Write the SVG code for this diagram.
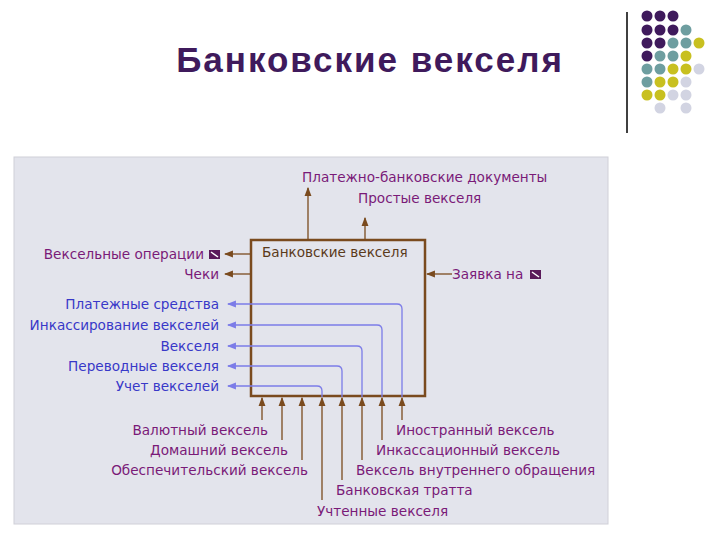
<svg xmlns="http://www.w3.org/2000/svg" width="720" height="540" viewBox="0 0 720 540">
<defs>
<style>
text{font-family:"DejaVu Sans","Liberation Sans",sans-serif;font-size:13.6px}
.p{fill:#7a1a78}.b{fill:#3838c8}.br{stroke:#7a4a1e;fill:none;stroke-width:1.3}
.bl{stroke:#7c7ce8;fill:none;stroke-width:1.3}
.P{fill:#3f1a5c}.T{fill:#6e9ea0}.Y{fill:#c8c020}.L{fill:#d2d4e2}
</style>
<marker id="ab" viewBox="0 0 8 8" refX="7" refY="4" markerWidth="7" markerHeight="7" orient="auto"><path d="M0,1L8,4L0,7z" fill="#7a4a1e"/></marker>
<marker id="au" viewBox="0 0 8 8" refX="7" refY="4" markerWidth="7" markerHeight="7" orient="auto"><path d="M0,1L8,4L0,7z" fill="#7c7ce8"/></marker>
</defs>
<rect width="720" height="540" fill="#fff"/>
<g id="deco">
<line x1="627" y1="12" x2="627" y2="133" stroke="#000" stroke-width="1.5"/>
<g>
<circle class="P" cx="647" cy="16" r="5.5"/><circle class="P" cx="660" cy="16" r="5.5"/><circle class="P" cx="673" cy="16" r="5.5"/>
<circle class="P" cx="647" cy="30" r="5.5"/><circle class="P" cx="660" cy="30" r="5.5"/><circle class="P" cx="673" cy="30" r="5.5"/><circle class="T" cx="686" cy="30" r="5.5"/>
<circle class="P" cx="647" cy="43" r="5.5"/><circle class="P" cx="660" cy="43" r="5.5"/><circle class="T" cx="673" cy="43" r="5.5"/><circle class="T" cx="686" cy="43" r="5.5"/><circle class="Y" cx="699" cy="43" r="5.5"/>
<circle class="P" cx="647" cy="56" r="5.5"/><circle class="T" cx="660" cy="56" r="5.5"/><circle class="T" cx="673" cy="56" r="5.5"/><circle class="Y" cx="686" cy="56" r="5.5"/>
<circle class="T" cx="647" cy="69" r="5.5"/><circle class="T" cx="660" cy="69" r="5.5"/><circle class="Y" cx="673" cy="69" r="5.5"/><circle class="Y" cx="686" cy="69" r="5.5"/><circle class="L" cx="699" cy="69" r="5.5"/>
<circle class="T" cx="647" cy="82" r="5.5"/><circle class="Y" cx="660" cy="82" r="5.5"/><circle class="Y" cx="673" cy="82" r="5.5"/><circle class="L" cx="686" cy="82" r="5.5"/>
<circle class="Y" cx="647" cy="95" r="5.5"/><circle class="Y" cx="660" cy="95" r="5.5"/><circle class="L" cx="673" cy="95" r="5.5"/><circle class="L" cx="686" cy="95" r="5.5"/>
<circle class="L" cx="660" cy="108" r="5.5"/><circle class="L" cx="686" cy="108" r="5.5"/>
</g>
</g>
<text x="370" y="72" text-anchor="middle" style="font-family:'Liberation Sans',Arial,sans-serif;font-size:35px;font-weight:bold;letter-spacing:2px" fill="#3f1a5c">Банковские векселя</text>
<rect x="14" y="157" width="594" height="367" fill="#e3e4ec" stroke="#d0d0d8"/>
<g id="box">
<rect x="251" y="240" width="174" height="156" fill="none" stroke="#7a4a1e" stroke-width="2.5"/>
<text x="262" y="257" fill="#5a3a1a">Банковские векселя</text>
</g>
<g id="connectors">
<path class="br" d="M308,240V188" marker-end="url(#ab)"/>
<path class="br" d="M365,240V218" stroke-width="2.2" marker-end="url(#ab)"/>
<path class="br" d="M250,254H225" marker-end="url(#ab)"/>
<path class="br" d="M250,274H225" marker-end="url(#ab)"/>
<path class="br" d="M452,274H427" marker-end="url(#ab)"/>
<path class="bl" d="M402,397V309q0,-5 -5,-5H228" marker-end="url(#au)"/>
<path class="bl" d="M382,397V330q0,-5 -5,-5H228" marker-end="url(#au)"/>
<path class="bl" d="M362,397V351q0,-5 -5,-5H228" marker-end="url(#au)"/>
<path class="bl" d="M342,397V371q0,-5 -5,-5H228" marker-end="url(#au)"/>
<path class="bl" d="M322,397V391q0,-5 -5,-5H228" stroke-width="2" marker-end="url(#au)"/>
<path class="br" d="M262,420V398" stroke-width="2.2" marker-end="url(#ab)"/>
<path class="br" d="M282,440V398" marker-end="url(#ab)"/>
<path class="br" d="M302,460V398" marker-end="url(#ab)"/>
<path class="br" d="M322,500V398" marker-end="url(#ab)"/>
<path class="br" d="M342,480V398" marker-end="url(#ab)"/>
<path class="br" d="M362,460V398" marker-end="url(#ab)"/>
<path class="br" d="M382,440V398" marker-end="url(#ab)"/>
<path class="br" d="M402,420V398" marker-end="url(#ab)"/>
</g>
<g id="labels">
<text class="p" x="302" y="182">Платежно-банковские документы</text>
<text class="p" x="358" y="203">Простые векселя</text>
<text class="p" x="204" y="259" text-anchor="end">Вексельные операции</text>
<rect x="209" y="250" width="11" height="9" fill="#5a1a5a"/><path d="M211,252L218,257" stroke="#fff" stroke-width="1.5"/>
<text class="p" x="219" y="279" text-anchor="end">Чеки</text>
<text class="p" x="452" y="279">Заявка на</text>
<rect x="530" y="270" width="11" height="9" fill="#5a1a5a"/><path d="M532,272L539,277" stroke="#fff" stroke-width="1.5"/>
<text class="b" x="219" y="309" text-anchor="end">Платежные средства</text>
<text class="b" x="219" y="330" text-anchor="end">Инкассирование векселей</text>
<text class="b" x="219" y="351" text-anchor="end">Векселя</text>
<text class="b" x="219" y="371" text-anchor="end">Переводные векселя</text>
<text class="b" x="219" y="391" text-anchor="end">Учет векселей</text>
<text class="p" x="268" y="435" text-anchor="end">Валютный вексель</text>
<text class="p" x="288" y="455" text-anchor="end">Домашний вексель</text>
<text class="p" x="308" y="475" text-anchor="end">Обеспечительский вексель</text>
<text class="p" x="396" y="435">Иностранный вексель</text>
<text class="p" x="376" y="455">Инкассационный вексель</text>
<text class="p" x="356" y="475">Вексель внутреннего обращения</text>
<text class="p" x="336" y="495">Банковская тратта</text>
<text class="p" x="317" y="516">Учтенные векселя</text>
</g>
</svg>
